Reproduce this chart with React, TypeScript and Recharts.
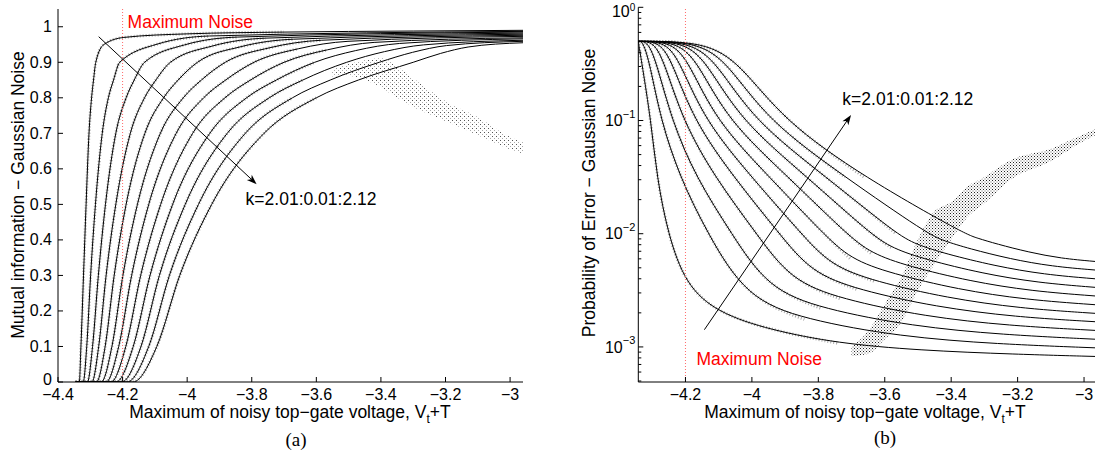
import React from "react";
import { ComposedChart, Line, Area, XAxis, YAxis, ReferenceLine, ReferenceDot } from "recharts";

const SANS = '"Liberation Sans", Arial, Helvetica, sans-serif';
const SERIF = '"Liberation Serif", "Times New Roman", Times, serif';

const kValues = ["2.01", "2.02", "2.03", "2.04", "2.05", "2.06", "2.07", "2.08", "2.09", "2.10", "2.11", "2.12"];

// (a) mutual information against V_t+T, one [V, I] list per k
const miCurves: number[][][] = [
  [[-4.345, 0], [-4.334, 0], [-4.329, 0.1], [-4.321, 0.3], [-4.313, 0.5], [-4.304, 0.7], [-4.296, 0.8], [-4.29, 0.85], [-4.283, 0.9], [-4.258, 0.95], [-4.196, 0.97], [-4.0, 0.98], [-3.7, 0.985], [-3.3, 0.988], [-2.96, 0.99]],
  [[-4.345, 0], [-4.322, 0], [-4.311, 0.1], [-4.299, 0.3], [-4.284, 0.5], [-4.263, 0.7], [-4.244, 0.8], [-4.228, 0.85], [-4.209, 0.9], [-4.093, 0.951], [-3.931, 0.974], [-2.96, 0.987]],
  [[-4.345, 0], [-4.309, 0], [-4.293, 0.1], [-4.275, 0.3], [-4.253, 0.5], [-4.221, 0.7], [-4.189, 0.8], [-4.164, 0.85], [-4.132, 0.9], [-4.008, 0.949], [-3.843, 0.971], [-2.96, 0.985]],
  [[-4.345, 0], [-4.295, 0], [-4.274, 0.1], [-4.251, 0.3], [-4.221, 0.5], [-4.176, 0.7], [-4.132, 0.8], [-4.097, 0.85], [-4.052, 0.9], [-3.921, 0.946], [-3.756, 0.968], [-2.96, 0.982]],
  [[-4.345, 0], [-4.281, 0], [-4.254, 0.1], [-4.226, 0.3], [-4.189, 0.5], [-4.131, 0.7], [-4.073, 0.8], [-4.028, 0.85], [-3.968, 0.9], [-3.833, 0.944], [-3.67, 0.965], [-2.96, 0.979]],
  [[-4.345, 0], [-4.266, 0], [-4.233, 0.1], [-4.199, 0.3], [-4.154, 0.5], [-4.083, 0.7], [-4.012, 0.8], [-3.956, 0.85], [-3.882, 0.9], [-3.744, 0.941], [-3.585, 0.962], [-2.96, 0.976]],
  [[-4.345, 0], [-4.251, 0], [-4.212, 0.1], [-4.172, 0.3], [-4.119, 0.5], [-4.034, 0.7], [-3.949, 0.8], [-3.881, 0.85], [-3.793, 0.9], [-3.656, 0.938], [-3.502, 0.959], [-2.96, 0.973]],
  [[-4.345, 0], [-4.236, 0], [-4.19, 0.1], [-4.144, 0.3], [-4.082, 0.5], [-3.983, 0.7], [-3.883, 0.8], [-3.804, 0.85], [-3.7, 0.9], [-3.566, 0.935], [-3.421, 0.956], [-2.96, 0.969]],
  [[-4.345, 0], [-4.22, 0], [-4.167, 0.1], [-4.115, 0.3], [-4.045, 0.5], [-3.93, 0.7], [-3.816, 0.8], [-3.724, 0.85], [-3.605, 0.9], [-3.478, 0.933], [-3.342, 0.953], [-2.96, 0.966]],
  [[-4.345, 0], [-4.203, 0], [-4.143, 0.1], [-4.086, 0.3], [-4.006, 0.5], [-3.876, 0.7], [-3.746, 0.8], [-3.642, 0.85], [-3.506, 0.9], [-3.389, 0.93], [-3.268, 0.949], [-2.96, 0.962]],
  [[-4.345, 0], [-4.186, 0], [-4.119, 0.1], [-4.055, 0.3], [-3.965, 0.5], [-3.82, 0.7], [-3.674, 0.8], [-3.557, 0.85], [-3.405, 0.9], [-3.302, 0.928], [-3.197, 0.947], [-2.96, 0.959]],
  [[-4.345, 0], [-4.168, 0], [-4.094, 0.1], [-4.023, 0.3], [-3.924, 0.5], [-3.762, 0.7], [-3.6, 0.8], [-3.47, 0.85], [-3.3, 0.9], [-3.215, 0.925], [-3.13, 0.943], [-2.96, 0.955]],
];

// simulated points follow each curve up to here, then fall into the band
const miHaloCut = [-3.42, -3.435, -3.45, -3.465, -3.48, -3.495, -3.51, -3.525, -3.54, -3.555, -3.57, -3.585];
const miBandX = [-3.55, -3.5, -3.45, -3.4, -3.35, -3.3, -3.2, -3.1, -3.0, -2.96];
const miBandLow = [0.86, 0.862, 0.85, 0.83, 0.8, 0.775, 0.735, 0.695, 0.655, 0.643];
const miBandHigh = [0.878, 0.895, 0.905, 0.912, 0.888, 0.855, 0.79, 0.745, 0.69, 0.675];

// (b) probability of error, one [V, Pe] list per k
const peCurves: number[][][] = [
  [[-4.342, 0.5], [-4.331, 0.316], [-4.304, 0.1], [-4.286, 0.0316], [-4.253, 0.01], [-4.2, 0.00355], [-4.103, 0.002], [-3.944, 0.00141], [-3.743, 0.00108], [-3.499, 0.000933], [-3.205, 0.000861], [-2.967, 0.000824]],
  [[-4.342, 0.5], [-4.328, 0.5], [-4.307, 0.316], [-4.274, 0.1], [-4.217, 0.0316], [-4.133, 0.01], [-4.017, 0.00273], [-3.842, 0.00175], [-3.552, 0.00123], [-3.261, 0.00106], [-2.967, 0.000982]],
  [[-4.342, 0.5], [-4.313, 0.5], [-4.286, 0.316], [-4.241, 0.1], [-4.169, 0.0316], [-4.061, 0.01], [-3.952, 0.00329], [-3.788, 0.00217], [-3.516, 0.00152], [-3.243, 0.00128], [-2.967, 0.00117]],
  [[-4.342, 0.5], [-4.295, 0.5], [-4.262, 0.316], [-4.208, 0.1], [-4.112, 0.0316], [-3.986, 0.01], [-3.884, 0.0039], [-3.732, 0.00265], [-3.478, 0.00185], [-3.225, 0.00154], [-2.967, 0.0014]],
  [[-4.342, 0.5], [-4.277, 0.5], [-4.238, 0.316], [-4.175, 0.1], [-4.055, 0.0316], [-3.917, 0.01], [-3.822, 0.00456], [-3.68, 0.00319], [-3.444, 0.00225], [-3.207, 0.00184], [-2.967, 0.00167]],
  [[-4.342, 0.5], [-4.259, 0.5], [-4.214, 0.316], [-4.142, 0.1], [-4.001, 0.0316], [-3.851, 0.01], [-3.763, 0.00525], [-3.631, 0.0038], [-3.411, 0.0027], [-3.191, 0.00219], [-2.967, 0.00198]],
  [[-4.342, 0.5], [-4.241, 0.5], [-4.187, 0.316], [-4.109, 0.1], [-3.947, 0.0316], [-3.785, 0.01], [-3.703, 0.00597], [-3.581, 0.00446], [-3.378, 0.00321], [-3.174, 0.00261], [-2.967, 0.00236]],
  [[-4.342, 0.5], [-4.223, 0.5], [-4.16, 0.316], [-4.073, 0.1], [-3.89, 0.0316], [-3.716, 0.01], [-3.641, 0.0067], [-3.529, 0.00516], [-3.343, 0.0038], [-3.157, 0.00311], [-2.967, 0.00282]],
  [[-4.342, 0.5], [-4.202, 0.5], [-4.133, 0.316], [-4.034, 0.1], [-3.833, 0.0316], [-3.644, 0.01], [-3.576, 0.0074], [-3.475, 0.0059], [-3.307, 0.00446], [-3.139, 0.00369], [-2.967, 0.00336]],
  [[-4.342, 0.5], [-4.184, 0.5], [-4.103, 0.316], [-3.995, 0.1], [-3.776, 0.0316], [-3.566, 0.01], [-3.506, 0.00805], [-3.417, 0.00665], [-3.268, 0.00519], [-3.12, 0.00436], [-2.967, 0.004]],
  [[-4.342, 0.5], [-4.163, 0.5], [-4.07, 0.316], [-3.953, 0.1], [-3.719, 0.0316], [-3.472, 0.01], [-3.422, 0.00865], [-3.347, 0.0074], [-3.222, 0.00598], [-3.096, 0.00514], [-2.967, 0.00478]],
  [[-4.342, 0.5], [-4.142, 0.5], [-4.034, 0.316], [-3.905, 0.1], [-3.662, 0.0316], [-3.361, 0.01], [-3.322, 0.00916], [-3.264, 0.00813], [-3.166, 0.00686], [-3.069, 0.00605], [-2.967, 0.00569]],
];

const peHaloCut = [-3.68, -3.664, -3.648, -3.632, -3.616, -3.6, -3.584, -3.568, -3.552, -3.536, -3.52, -3.504];
const peBandX = [-3.7, -3.65, -3.6, -3.55, -3.5, -3.45, -3.4, -3.35, -3.3, -3.22, -3.1, -3.0, -2.967];
const peBandLow = [0.00083, 0.00087, 0.00117, 0.00166, 0.00316, 0.0054, 0.0089, 0.0141, 0.0186, 0.0302, 0.0437, 0.0661, 0.0741];
const peBandHigh = [0.001, 0.00138, 0.0024, 0.00417, 0.0089, 0.0158, 0.019, 0.0263, 0.0316, 0.0447, 0.0562, 0.0759, 0.0832];

// axes
const miXTicks = [-4.4, -4.2, -4, -3.8, -3.6, -3.4, -3.2, -3];
const miYTicks = [0, 0.1, 0.2, 0.3, 0.4, 0.5, 0.6, 0.7, 0.8, 0.9, 1];
const peXTicks = [-4.2, -4, -3.8, -3.6, -3.4, -3.2, -3];
const peDecades = [1e-4, 1e-3, 1e-2, 1e-1];
const peMinorSteps = [2, 3, 4, 5, 6, 7, 8, 9];
const peYTicks = peDecades
  .flatMap((d) => [d, ...peMinorSteps.map((m) => +(d * m).toPrecision(3))])
  .filter((v) => v >= 4.9e-4)
  .concat([1]);

// annotations, in data coordinates
const noiseLimit = -4.2;
const miArrow = [{ x: -4.274, y: 0.972 }, { x: -3.785, y: 0.557 }];
const miKLabel = { x: -3.819, y: 0.498 };
const miNoiseLabel = { x: -4.1845, y: 0.997 };
const peArrow = [{ x: -4.143, y: 0.00142 }, { x: -3.7015, y: 0.112 }];
const peKLabel = { x: -3.7276, y: 0.1374 };
const peNoiseLabel = { x: -4.167, y: 0.000697 };

const rows = (pts: number[][]) => pts.map(([x, y]) => ({ x, y }));
const upTo = (pts: number[][], cut: number) => rows(pts.filter(([x]) => x <= cut));
const bandRows = (xs: number[], lo: number[], hi: number[]) =>
  xs.map((x, i) => ({ x, band: [lo[i], hi[i]] }));

const fmt = (v: number) => String(Math.round(v * 10) / 10).replace("-", "\u2212");

function BottomTick(props: any) {
  const { x, y, payload } = props;
  const axisY = y - 4;
  return (
    <g>
      <line x1={x} x2={x} y1={axisY} y2={axisY - 5} stroke="#000" strokeWidth={1} />
      <text x={x} y={axisY + 18} textAnchor="middle" fontFamily={SANS} fontSize={16} fill="#000">
        {fmt(payload.value)}
      </text>
    </g>
  );
}

function LeftTick(props: any) {
  const { x, y, payload } = props;
  const axisX = x + 6;
  // the zero label is lifted slightly so it clears the first x label
  const dy = payload.value === 0 ? "0.2em" : "0.33em";
  return (
    <g>
      <line x1={axisX} x2={axisX + 5} y1={y} y2={y} stroke="#000" strokeWidth={1} />
      <text x={x} y={y} dy={dy} textAnchor="end" fontFamily={SANS} fontSize={16} fill="#000">
        {fmt(payload.value)}
      </text>
    </g>
  );
}

function LogTick(props: any) {
  const { x, y, payload } = props;
  const e = Math.log10(payload.value);
  const major = Math.abs(e - Math.round(e)) < 1e-6;
  const axisX = x + 3;
  if (!major) {
    return <line x1={axisX} x2={axisX + 3} y1={y} y2={y} stroke="#000" strokeWidth={1} />;
  }
  const exp = String(Math.round(e)).replace("-", "\u2212");
  // the top label sits a little lower so its exponent stays inside the frame
  const top = Math.round(e) === 0;
  return (
    <g>
      <line x1={axisX} x2={axisX + 5} y1={y} y2={y} stroke="#000" strokeWidth={1} />
      <text x={x} y={y + (top ? 10 : 5.7)} textAnchor="end" fontFamily={SANS} fontSize={16} fill="#000">
        10<tspan dy={top ? -6.5 : -8.4} fontSize={top ? 10 : 11}>{exp}</tspan>
      </text>
    </g>
  );
}

function arrowShape(props: any) {
  const { x1, y1, x2, y2 } = props;
  const a = Math.atan2(y2 - y1, x2 - x1);
  const len = 10;
  const half = 3.6;
  const c = Math.cos(a);
  const s = Math.sin(a);
  const bx = x2 - len * c;
  const by = y2 - len * s;
  const nx = x2 - 0.72 * len * c;
  const ny = y2 - 0.72 * len * s;
  const pts = `${x2},${y2} ${bx - half * s},${by + half * c} ${nx},${ny} ${bx + half * s},${by - half * c}`;
  return (
    <g>
      <line x1={x1} y1={y1} x2={nx} y2={ny} stroke="#000" strokeWidth={1} />
      <polygon points={pts} fill="#000" />
    </g>
  );
}

const textAt = (label: string, color: string) => (p: any) => (
  <text x={p.cx} y={p.cy} fontFamily={SANS} fontSize={17.5} fill={color}>
    {label}
  </text>
);

function MutualInfoChart() {
  return (
    <ComposedChart width={540} height={457} margin={{ top: 9, right: 17, bottom: 35, left: 8 }}>
      <XAxis
        type="number"
        dataKey="x"
        domain={[-4.4, -2.96]}
        ticks={miXTicks}
        interval={0}
        height={40}
        tickSize={0}
        tickMargin={4}
        tickLine={false}
        axisLine={{ stroke: "#000" }}
        tick={(p: any) => <BottomTick {...p} />}
        allowDataOverflow
      />
      <YAxis
        type="number"
        domain={[0, 1.05]}
        ticks={miYTicks}
        interval={0}
        width={50}
        tickSize={0}
        tickMargin={6}
        tickLine={false}
        axisLine={{ stroke: "#000" }}
        tick={(p: any) => <LeftTick {...p} />}
        allowDataOverflow
      />
      <Area
        data={bandRows(miBandX, miBandLow, miBandHigh)}
        dataKey="band"
        type="monotone"
        stroke="none"
        fill="url(#grainA)"
        fillOpacity={1}
        isAnimationActive={false}
      />
      {miCurves.map((c, i) => (
        <Line
          key={`sim${i}`}
          data={upTo(c, miHaloCut[i])}
          dataKey="y"
          type="monotone"
          dot={false}
          stroke="#a8a8a8"
          strokeWidth={3}
          strokeDasharray="1 2"
          isAnimationActive={false}
        />
      ))}
      {miCurves.map((c, i) => (
        <Line
          key={`k${i}`}
          name={`k=${kValues[i]}`}
          data={rows(c)}
          dataKey="y"
          type="monotone"
          dot={false}
          stroke="#000"
          strokeWidth={1}
          isAnimationActive={false}
        />
      ))}
      <ReferenceLine x={noiseLimit} stroke="#ff6a6a" strokeDasharray="1 2" strokeWidth={1} />
      <ReferenceLine segment={miArrow} shape={arrowShape} />
      <ReferenceDot x={miKLabel.x} y={miKLabel.y} r={0} shape={textAt("k=2.01:0.01:2.12", "#000")} />
      <ReferenceDot x={miNoiseLabel.x} y={miNoiseLabel.y} r={0} shape={textAt("Maximum Noise", "#ff0000")} />
    </ComposedChart>
  );
}

function ErrorProbChart() {
  return (
    <ComposedChart width={535} height={457} margin={{ top: 7.3, right: 0, bottom: 35, left: 8.3 }}>
      <XAxis
        type="number"
        dataKey="x"
        domain={[-4.342, -2.967]}
        ticks={peXTicks}
        interval={0}
        height={40}
        tickSize={0}
        tickMargin={4}
        tickLine={false}
        axisLine={{ stroke: "#000" }}
        tick={(p: any) => <BottomTick {...p} />}
        allowDataOverflow
      />
      <YAxis
        type="number"
        scale="log"
        domain={[4.9e-4, 1]}
        ticks={peYTicks}
        interval={0}
        width={70}
        tickSize={0}
        tickMargin={3}
        tickLine={false}
        axisLine={{ stroke: "#000" }}
        tick={(p: any) => <LogTick {...p} />}
        allowDataOverflow
      />
      <Area
        data={bandRows(peBandX, peBandLow, peBandHigh)}
        dataKey="band"
        type="monotone"
        stroke="none"
        fill="url(#grainB)"
        fillOpacity={1}
        isAnimationActive={false}
      />
      {peCurves.map((c, i) => (
        <Line
          key={`sim${i}`}
          data={upTo(c, peHaloCut[i])}
          dataKey="y"
          type="basis"
          dot={false}
          stroke="#a8a8a8"
          strokeWidth={3}
          strokeDasharray="1 2"
          isAnimationActive={false}
        />
      ))}
      {peCurves.map((c, i) => (
        <Line
          key={`k${i}`}
          name={`k=${kValues[i]}`}
          data={rows(c)}
          dataKey="y"
          type="basis"
          dot={false}
          stroke="#000"
          strokeWidth={1}
          isAnimationActive={false}
        />
      ))}
      <ReferenceLine x={noiseLimit} stroke="#ff6a6a" strokeDasharray="1 2" strokeWidth={1} />
      <ReferenceLine segment={peArrow} shape={arrowShape} />
      <ReferenceDot x={peKLabel.x} y={peKLabel.y} r={0} shape={textAt("k=2.01:0.01:2.12", "#000")} />
      <ReferenceDot x={peNoiseLabel.x} y={peNoiseLabel.y} r={0} shape={textAt("Maximum Noise", "#ff0000")} />
    </ComposedChart>
  );
}

function XTitle({ cx }: { cx: number }) {
  return (
    <text x={cx} y={418} textAnchor="middle" fontFamily={SANS} fontSize={17.5} fill="#000">
      Maximum of noisy top{"\u2212"}gate voltage, V
      <tspan fontSize={12} dy={5}>t</tspan>
      <tspan dy={-5}>+T</tspan>
    </text>
  );
}

export default function App() {
  return (
    <div style={{ position: "absolute", left: 0, top: 0, width: 1095, height: 457, background: "#fff" }}>
      <svg width={0} height={0} style={{ position: "absolute" }}>
        <defs>
          <pattern id="grainA" width={4} height={4} patternUnits="userSpaceOnUse">
            <rect x={0} y={0} width={1} height={1} fill="#555" />
            <rect x={2} y={2} width={1} height={1} fill="#aaa" />
          </pattern>
          <pattern id="grainB" width={3} height={3} patternUnits="userSpaceOnUse">
            <rect x={0} y={0} width={1} height={1} fill="#222" />
            <rect x={1.5} y={1.5} width={1} height={1} fill="#666" />
          </pattern>
        </defs>
      </svg>
      <div style={{ position: "absolute", left: 0, top: 0 }}>
        <MutualInfoChart />
      </div>
      <div style={{ position: "absolute", left: 560, top: 0 }}>
        <ErrorProbChart />
      </div>
      <svg
        width={1095}
        height={457}
        style={{ position: "absolute", left: 0, top: 0, pointerEvents: "none" }}
      >
        <text transform="translate(24,195) rotate(-90)" textAnchor="middle" fontFamily={SANS} fontSize={17.5} fill="#000">
          Mutual information {"\u2212"} Gaussian Noise
        </text>
        <text transform="translate(595,193) rotate(-90)" textAnchor="middle" fontFamily={SANS} fontSize={17.5} fill="#000">
          Probability of Error {"\u2212"} Gaussian Noise
        </text>
        <XTitle cx={290} />
        <XTitle cx={865} />
        <text x={296} y={446} textAnchor="middle" fontFamily={SERIF} fontSize={19} fill="#000">
          (a)
        </text>
        <text x={885} y={444} textAnchor="middle" fontFamily={SERIF} fontSize={19} fill="#000">
          (b)
        </text>
      </svg>
    </div>
  );
}
